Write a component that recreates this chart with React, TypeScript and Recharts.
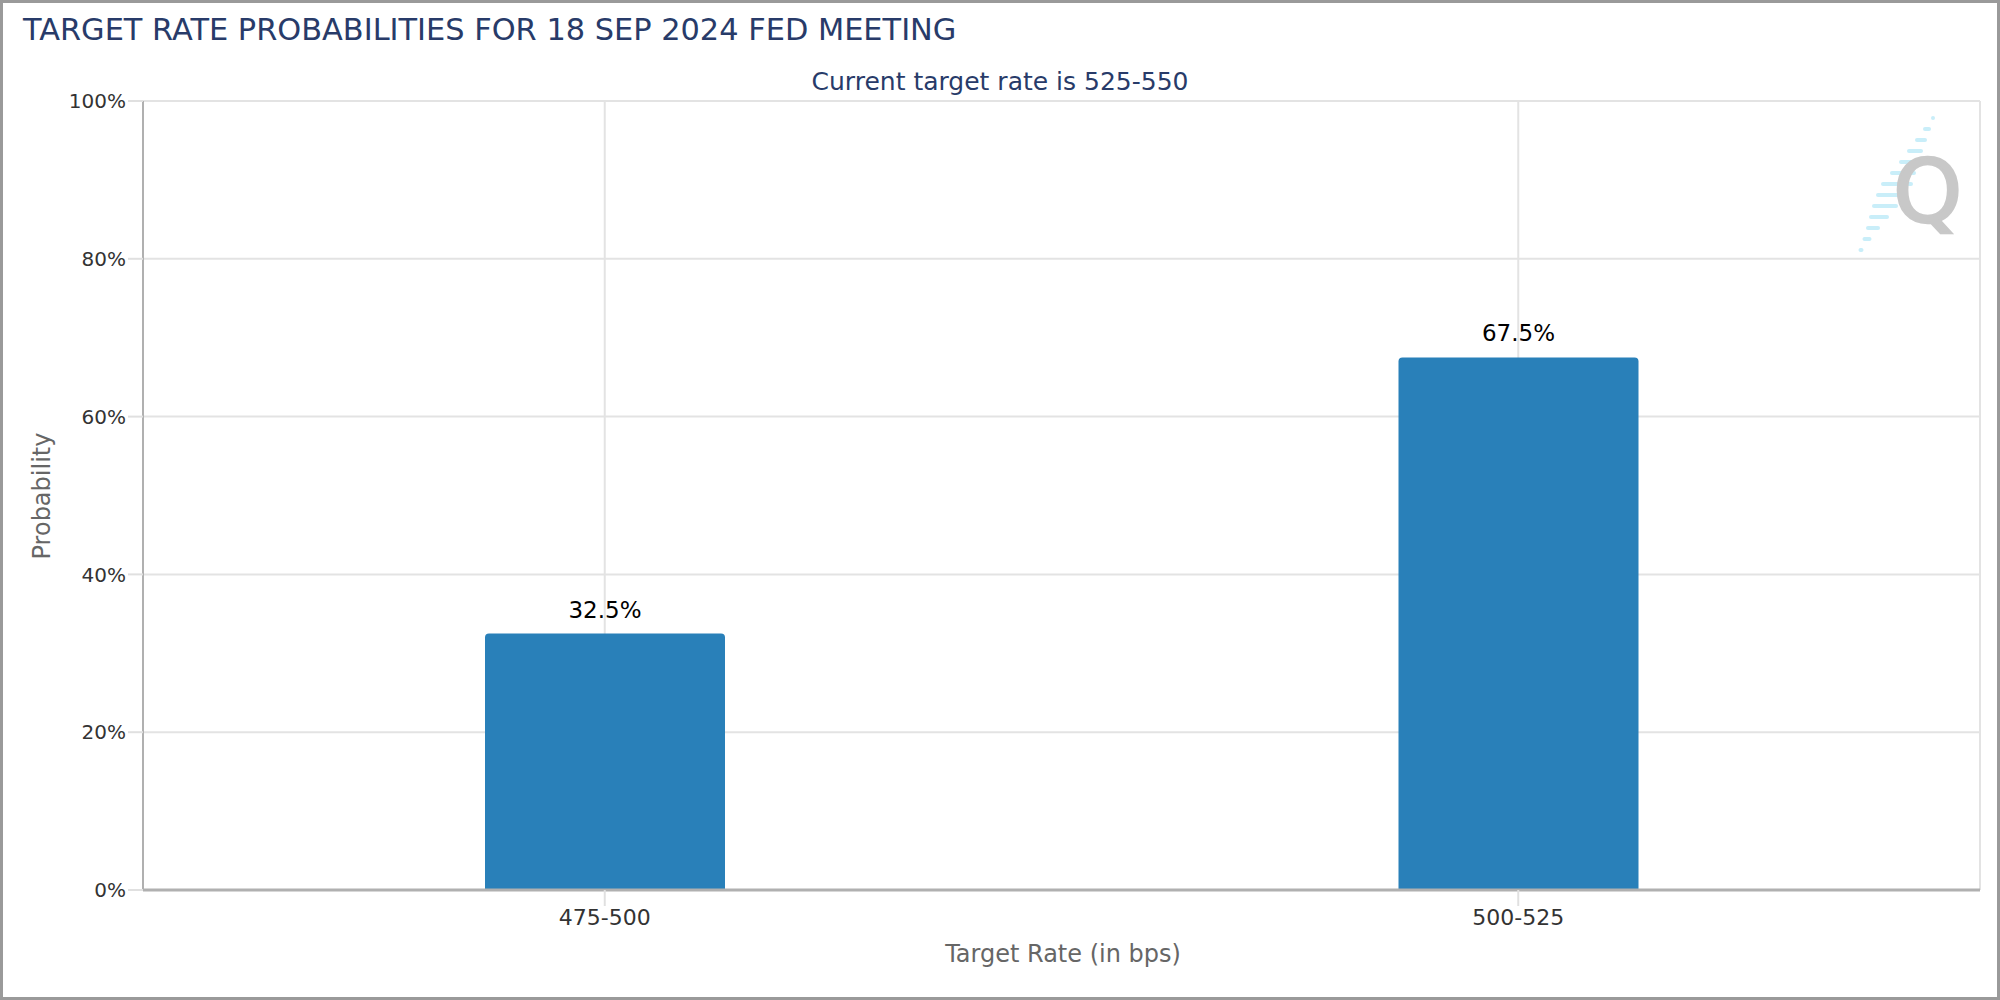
import React from 'react';
import {
  BarChart,
  Bar,
  XAxis,
  YAxis,
  CartesianGrid,
  LabelList,
} from 'recharts';

const rateRanges = ['475-500', '500-525'];
const probabilities = [32.5, 67.5];
const yTicks = [0, 20, 40, 60, 80, 100];

const data = rateRanges.map((range, i) => ({ range, probability: probabilities[i] }));

const FONT = '"DejaVu Sans", Verdana, sans-serif';
const NAVY = '#283b69';

// faint "Q" watermark in the top right corner
const QuikLogo: React.FC = () => {
  const dashes = [4, 8, 12, 16, 20, 26, 32, 30, 26, 20, 14, 9, 5];
  return (
    <svg
      width={160}
      height={170}
      style={{ position: 'absolute', left: 1840, top: 105, pointerEvents: 'none' }}
    >
      {dashes.map((len, i) => {
        const y = 8 + i * 11;
        const cx = 90 - i * 6;
        return <rect key={i} x={cx - len / 2} y={y} width={len} height={4} rx={2} fill="#c9eef9" />;
      })}
      <text
        x={50}
        y={114}
        fontFamily={FONT}
        fontSize={88}
        fill="#c8c8c8"
        stroke="#c8c8c8"
        strokeWidth={2.5}
      >
        Q
      </text>
    </svg>
  );
};

const App: React.FC = () => {
  return (
    <div
      style={{
        position: 'absolute',
        left: 0,
        top: 0,
        width: 2000,
        height: 1000,
        boxSizing: 'border-box',
        border: '3px solid #9a9a9a',
        background: '#fff',
        fontFamily: FONT,
      }}
    >
      <div
        style={{
          position: 'absolute',
          left: 20,
          top: 11,
          fontSize: 30.4,
          lineHeight: '31px',
          color: NAVY,
          whiteSpace: 'nowrap',
        }}
      >
        TARGET RATE PROBABILITIES FOR 18 SEP 2024 FED MEETING
      </div>
      <div
        style={{
          position: 'absolute',
          left: 997,
          top: 66,
          transform: 'translateX(-50%)',
          fontSize: 25,
          lineHeight: '25px',
          color: NAVY,
          whiteSpace: 'nowrap',
        }}
      >
        Current target rate is 525-550
      </div>

      <div style={{ position: 'absolute', left: -3, top: -3 }}>
        <BarChart
          width={2000}
          height={1000}
          data={data}
          margin={{ top: 101, right: 20, bottom: 0, left: 0 }}
          barSize={240}
        >
          <CartesianGrid stroke="#e3e3e3" strokeWidth={2} />
          <XAxis
            dataKey="range"
            height={110}
            padding={{ left: 5, right: 5 }}
            tickSize={16}
            tickMargin={3}
            tickLine={{ stroke: '#e0e0e0', strokeWidth: 2 }}
            axisLine={{ stroke: '#b0b0b0', strokeWidth: 3 }}
            tick={{ fill: '#333', fontSize: 22, fontFamily: FONT }}
          />
          <YAxis
            width={143}
            domain={[0, 100]}
            ticks={yTicks}
            tickFormatter={(v: number) => `${v}%`}
            tickSize={15}
            tickMargin={2}
            tickLine={{ stroke: '#e0e0e0', strokeWidth: 2 }}
            axisLine={{ stroke: '#b0b0b0', strokeWidth: 2 }}
            tick={{ fill: '#333', fontSize: 20, fontFamily: FONT }}
          />
          <Bar
            dataKey="probability"
            fill="#2980b9"
            radius={[4, 4, 0, 0]}
            isAnimationActive={false}
          >
            <LabelList
              dataKey="probability"
              position="top"
              offset={16}
              formatter={(v: number) => `${v}%`}
              style={{ fill: '#000', fontSize: 23, fontFamily: FONT }}
            />
          </Bar>
        </BarChart>
      </div>

      <div
        style={{
          position: 'absolute',
          left: 39,
          top: 493,
          transform: 'translate(-50%, -50%) rotate(-90deg)',
          fontSize: 24,
          lineHeight: '24px',
          color: '#666',
          whiteSpace: 'nowrap',
        }}
      >
        Probability
      </div>
      <div
        style={{
          position: 'absolute',
          left: 1060,
          top: 951,
          transform: 'translate(-50%, -50%)',
          fontSize: 24,
          lineHeight: '24px',
          color: '#666',
          whiteSpace: 'nowrap',
        }}
      >
        Target Rate (in bps)
      </div>

      <QuikLogo />
    </div>
  );
};

export default App;
